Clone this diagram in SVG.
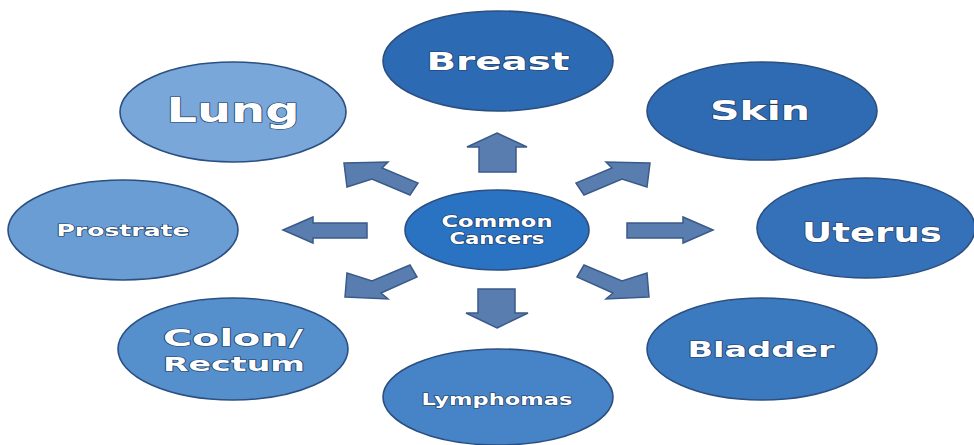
<svg xmlns="http://www.w3.org/2000/svg" width="974" height="445" viewBox="0 0 974 445">
<style>
.node{stroke:#2b4f80;stroke-width:1.6}
.lbl{font-family:"DejaVu Sans",Verdana,sans-serif;font-weight:bold;fill:#ffffff;stroke:#1f3d66;stroke-width:1.2;paint-order:stroke;text-anchor:middle}
.arr{fill:#5a7db0;stroke:#3a5a88;stroke-width:1.5;stroke-linejoin:miter}
</style>
<rect width="974" height="445" fill="#ffffff"/>
<g id="connectors">
<polygon class="arr" points="497,133 527,147 516,147 516,172 479,172 479,147 467,147"/>
<polygon class="arr" points="497,328 528,313 515,313 515,289 478,289 478,313 466,313"/>
<polygon class="arr" points="283,230 313,217 313,223 367,223 367,238 313,238 313,243"/>
<polygon class="arr" points="713,230 683,217 683,223 627,223 627,238 683,238 683,243"/>
<polygon class="arr" points="344,163 388,162 382,168 418,183 410,195 372,179 347,187"/>
<polygon class="arr" points="650,163 606,162 612,168 576,183 584,195 622,179 647,187"/>
<polygon class="arr" points="345,297 388,299 381,293 417,277 410,265 372,281 347,273"/>
<polygon class="arr" points="649,297 606,299 613,293 577,277 584,265 622,281 647,273"/>
</g>
<g id="breast"><ellipse class="node" cx="498" cy="61" rx="115" ry="50" fill="#2d6ab4"/><text class="lbl" x="498" y="70" font-size="25" textLength="143" lengthAdjust="spacingAndGlyphs">Breast</text></g>
<g id="lung"><ellipse class="node" cx="233" cy="112" rx="113" ry="50" fill="#79a7d9"/><text class="lbl" x="233" y="122" font-size="33" textLength="133" lengthAdjust="spacingAndGlyphs">Lung</text></g>
<g id="skin"><ellipse class="node" cx="762" cy="111" rx="115" ry="49" fill="#2e6bb3"/><text class="lbl" x="760" y="120" font-size="27" textLength="100" lengthAdjust="spacingAndGlyphs">Skin</text></g>
<g id="prostrate"><ellipse class="node" cx="123" cy="230" rx="115" ry="50" fill="#699dd4"/><text class="lbl" x="123" y="236" font-size="16" textLength="133" lengthAdjust="spacingAndGlyphs">Prostrate</text></g>
<g id="uterus"><ellipse class="node" cx="866" cy="228" rx="109" ry="50" fill="#3571b9"/><text class="lbl" x="872" y="242" font-size="27" textLength="140" lengthAdjust="spacingAndGlyphs">Uterus</text></g>
<g id="colon"><ellipse class="node" cx="233" cy="349" rx="115" ry="51" fill="#5590cd"/><text class="lbl" x="233" y="346" font-size="23" textLength="140" lengthAdjust="spacingAndGlyphs">Colon/</text><text class="lbl" x="234" y="371" font-size="20" textLength="142" lengthAdjust="spacingAndGlyphs">Rectum</text></g>
<g id="lymphomas"><ellipse class="node" cx="498" cy="397" rx="115" ry="48" fill="#4784c7"/><text class="lbl" x="497" y="405" font-size="16" textLength="151" lengthAdjust="spacingAndGlyphs">Lymphomas</text></g>
<g id="bladder"><ellipse class="node" cx="762" cy="349" rx="115" ry="51" fill="#3c7ac0"/><text class="lbl" x="761" y="357" font-size="21" textLength="147" lengthAdjust="spacingAndGlyphs">Bladder</text></g>
<g id="center"><ellipse class="node" cx="497" cy="230" rx="92" ry="40" fill="#2a72c2"/><text class="lbl" x="497" y="227" font-size="15" textLength="111" lengthAdjust="spacingAndGlyphs">Common</text><text class="lbl" x="497" y="244" font-size="15" textLength="95" lengthAdjust="spacingAndGlyphs">Cancers</text></g>
</svg>
